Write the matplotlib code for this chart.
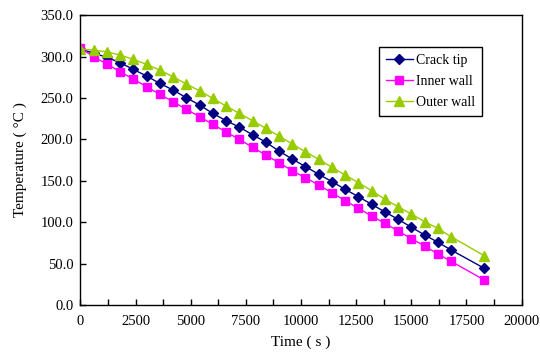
import numpy as np
import matplotlib
matplotlib.use("Agg")
import matplotlib.pyplot as plt
from matplotlib.ticker import MultipleLocator, FormatStrFormatter

plt.rcParams['font.family'] = ['Liberation Serif', 'DejaVu Serif']

# time points (s)
time = [0, 600, 1200, 1800, 2400, 3000, 3600, 4200, 4800, 5400,
        6000, 6600, 7200, 7800, 8400, 9000, 9600, 10200, 10800, 11400,
        12000, 12600, 13200, 13800, 14400, 15000, 15600, 16200, 16800, 18300]

crack_tip = [309, 304, 299, 292.5, 284.4, 276.4, 267.5, 259.5, 250.2, 241.4,
             231.3, 222.5, 214.8, 205.5, 196.7, 185.8, 176.2, 167.0, 157.8, 148.9,
             139.6, 130.7, 121.5, 112.3, 103.4, 93.8, 84.5, 75.7, 66.4, 44.3]

inner_wall = [310, 299.7, 290.9, 281.6, 272.7, 263.5, 254.2, 245.4, 236.2, 227.3,
              218.1, 208.8, 200.0, 190.3, 181.0, 171.7, 162.1, 153.6, 144.8, 135.5,
              125.9, 116.7, 107.4, 98.6, 89.3, 80.0, 71.2, 61.5, 52.7, 30.2]

outer_wall = [309, 307.7, 305.7, 301.7, 296.5, 290.5, 283.6, 275.5, 266.7, 258.6,
              249.4, 240.2, 231.3, 222.5, 213.3, 204.0, 194.3, 185.0, 175.8, 166.2,
              156.9, 147.6, 138.0, 127.6, 118.6, 109.8, 100.5, 92.5, 82.4, 59.5]

fig = plt.figure(figsize=(5.4, 3.6), dpi=100)
ax = fig.add_axes([0.149, 0.153, 0.817, 0.805])

ax.plot(time, crack_tip, color='#000080', marker='D', markersize=5.5, lw=1, label='Crack tip')
ax.plot(time, inner_wall, color='#FF00FF', marker='s', markersize=6, lw=1, label='Inner wall')
ax.plot(time, outer_wall, color='#99CC00', marker='^', markersize=6.5, lw=1, label='Outer wall')

ax.set_xlim(0, 20000)
ax.set_ylim(0, 350)
ax.xaxis.set_major_locator(MultipleLocator(2500))
ax.xaxis.set_minor_locator(MultipleLocator(1250))
ax.yaxis.set_major_locator(MultipleLocator(50))
ax.yaxis.set_major_formatter(FormatStrFormatter('%.1f'))
ax.tick_params(which='both', direction='in', length=4, width=1, labelsize=10.5)
ax.tick_params(axis='x', pad=7)
ax.tick_params(axis='y', pad=5)
for s in ax.spines.values():
    s.set_linewidth(1)

ax.set_xlabel('Time ( s )', fontsize=11, labelpad=6)
ax.set_ylabel('Temperature ( °C )', fontsize=11, labelpad=10)

leg = ax.legend(loc='upper left', bbox_to_anchor=(0.66, 0.915), fontsize=10,
                fancybox=False, edgecolor='black', framealpha=1,
                handlelength=2, handletextpad=0.2, borderpad=0.5, labelspacing=0.6)
leg.get_frame().set_linewidth(1)

plt.savefig('out.png', dpi=100)
